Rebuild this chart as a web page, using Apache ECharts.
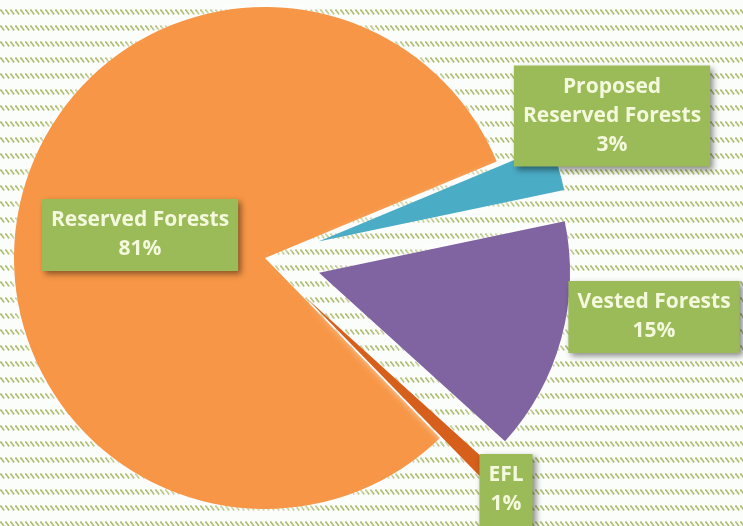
<!DOCTYPE html>
<html>
<head>
<meta charset="utf-8">
<script src="https://cdn.jsdelivr.net/npm/echarts@6/dist/echarts.min.js"></script>
<style>
    html, body { margin: 0; padding: 0; background: #fff; }
    #main { width: 743px; height: 526px; }
</style>
</head>
<body>
<div id="main"></div>
<script>
// forest area shares (labels in the chart are whole percents)
var categories = ['Reserved Forests', 'Proposed\nReserved Forests', 'Vested Forests', 'EFL'];
var shares = [81, 3, 15, 1];
var exploded = [false, true, true, true];

var sliceColors = ['#f79646', '#4bacc6', '#8064a2', '#d55f1b'];
// where the green boxes sit (centre of box)
var labelSpots = [[140, 235], [612, 116], [654, 317], [506, 490]];

function makeHatch() {
    var c = document.createElement('canvas');
    c.width = 5;
    c.height = 16;
    var ctx = c.getContext('2d');
    ctx.fillStyle = '#fbfdfb';
    ctx.fillRect(0, 0, 5, 16);
    ctx.strokeStyle = '#aebd70';
    ctx.lineWidth = 1.6;
    ctx.beginPath();
    ctx.moveTo(0.5, 9.5);
    ctx.lineTo(4.2, 14.5);
    ctx.stroke();
    return c;
}

var myChart = echarts.init(document.getElementById('main'));

var pieData = categories.map(function (name, i) {
    return {
        name: name,
        value: shares[i],
        selected: exploded[i],
        itemStyle: { color: sliceColors[i] },
        select: { itemStyle: { color: sliceColors[i], borderWidth: 0 } }
    };
});

// same values again, drawn see-through, only to carry the labels
// (selected slices would drag their labels along otherwise)
var labelData = categories.map(function (name, i) {
    return { name: name, value: shares[i] };
});

var option = {
    backgroundColor: { image: makeHatch(), repeat: 'repeat' },
    animation: false,
    series: [
        {
            type: 'pie',
            center: [265, 258],
            radius: 251,
            startAngle: 314.2,
            selectedMode: 'multiple',
            selectedOffset: 56,
            emphasis: { disabled: true },
            itemStyle: {
                shadowBlur: 8,
                shadowColor: 'rgba(255,255,255,0.9)'
            },
            label: { show: false },
            labelLine: { show: false },
            data: pieData
        },
        {
            type: 'pie',
            center: [265, 258],
            radius: 251,
            startAngle: 314.2,
            silent: true,
            z: 5,
            avoidLabelOverlap: false,
            emphasis: { disabled: true },
            itemStyle: { color: 'rgba(0,0,0,0)' },
            label: {
                show: true,
                formatter: '{b}\n{d}%',
                fontFamily: 'Open Sans',
                fontWeight: 'bold',
                fontSize: 21,
                lineHeight: 29,
                color: '#f4f8dc',
                align: 'center',
                backgroundColor: '#9bbb59',
                padding: [7, 9],
                shadowBlur: 6,
                shadowOffsetX: 3,
                shadowOffsetY: 3,
                shadowColor: 'rgba(0,0,0,0.45)'
            },
            labelLine: { show: false },
            labelLayout: function (params) {
                var s = labelSpots[params.dataIndex];
                return { x: s[0], y: s[1], align: 'center', verticalAlign: 'middle' };
            },
            data: labelData
        }
    ]
};

myChart.setOption(option);
</script>
</body>
</html>
